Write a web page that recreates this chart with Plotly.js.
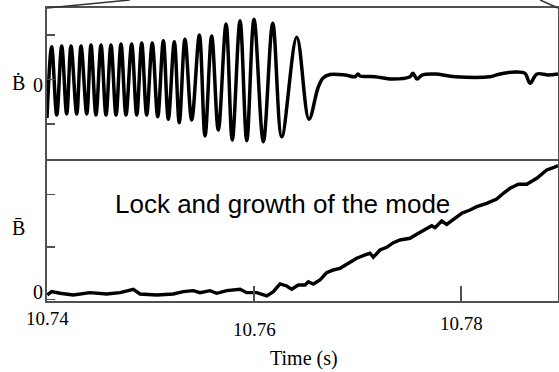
<!DOCTYPE html>
<html><head><meta charset="utf-8">
<script src="https://cdn.plot.ly/plotly-3.0.1.min.js"></script>
<style>
html,body{margin:0;padding:0;background:#fff}
#chart{width:559px;height:372px}
</style>
</head><body><div id="chart"></div>
<script>
// Top panel: dB/dt signal (peaks / troughs)
const bdotTime = [10.74000, 10.74045, 10.74094, 10.74142, 10.74190, 10.74232, 10.74287, 10.74329, 10.74384, 10.74425,
  10.74473, 10.74522, 10.74570, 10.74618, 10.74667, 10.74715, 10.74763, 10.74818, 10.74867, 10.74915,
  10.74963, 10.75017, 10.75070, 10.75124, 10.75172, 10.75230, 10.75278, 10.75333, 10.75398, 10.75472,
  10.75527, 10.75591, 10.75655, 10.75730, 10.75790, 10.75865, 10.75930, 10.76000, 10.76090, 10.76181,
  10.76268, 10.76413, 10.76531, 10.76618, 10.76667, 10.76734, 10.76879, 10.76976, 10.77005, 10.77024,
  10.77169, 10.77333, 10.77507, 10.77536, 10.77575, 10.77623, 10.77749, 10.77942, 10.78280, 10.78377,
  10.78522, 10.78618, 10.78667, 10.78734, 10.78841, 10.78937];
const bdotValue = [-0.865, 0.737, -0.798, 0.753, -0.775, 0.753, -0.775, 0.753, -0.775, 0.775,
  -0.798, 0.775, -0.798, 0.775, -0.798, 0.798, -0.798, 0.798, -0.798, 0.820,
  -0.798, 0.820, -0.836, 0.872, -0.894, 0.849, -0.971, 0.903, -0.910, 1.000,
  -1.270, 0.978, -1.135, 1.247, -1.360, 1.321, -1.375, 1.353, -1.398, 1.263,
  -1.285, 0.948, -0.894, -0.191, 0.034, 0.112, 0.101, 0.063, 0.124, 0.079,
  0.063, 0.011, 0.063, 0.139, 0.011, 0.101, 0.124, 0.063, 0.063, 0.124,
  0.169, 0.139, -0.085, 0.124, 0.101, 0.124];

// Bottom panel: mean B amplitude
const bbarTime = [10.74003, 10.74045, 10.74126, 10.74254, 10.74415, 10.74577, 10.74705, 10.74834, 10.74899, 10.75060,
  10.75220, 10.75317, 10.75414, 10.75478, 10.75575, 10.75640, 10.75736, 10.75865, 10.75930, 10.76026,
  10.76123, 10.76187, 10.76251, 10.76316, 10.76364, 10.76428, 10.76493, 10.76525, 10.76573, 10.76638,
  10.76702, 10.76766, 10.76831, 10.76896, 10.76992, 10.77073, 10.77121, 10.77153, 10.77217, 10.77282,
  10.77346, 10.77411, 10.77507, 10.77572, 10.77652, 10.77717, 10.77749, 10.77814, 10.77862, 10.77942,
  10.78007, 10.78087, 10.78152, 10.78248, 10.78345, 10.78409, 10.78474, 10.78554, 10.78635, 10.78732,
  10.78795, 10.78828, 10.78892, 10.78937];
const bbarValue = [0.086, 0.149, 0.118, 0.086, 0.130, 0.105, 0.130, 0.194, 0.105, 0.086,
  0.105, 0.149, 0.168, 0.130, 0.168, 0.118, 0.168, 0.194, 0.130, 0.130,
  0.067, 0.149, 0.295, 0.257, 0.194, 0.276, 0.276, 0.339, 0.295, 0.371,
  0.510, 0.562, 0.594, 0.676, 0.785, 0.848, 0.880, 0.804, 0.943, 0.994,
  1.082, 1.133, 1.166, 1.242, 1.343, 1.406, 1.368, 1.495, 1.432, 1.547,
  1.642, 1.705, 1.768, 1.832, 1.914, 2.023, 2.118, 2.194, 2.194, 2.309,
  2.404, 2.467, 2.510, 2.549];

const timeTicks = [10.74, 10.76, 10.78];
const timeTickLabels = ['10.74', '10.76', '10.78'];
const bdotTicks = [-1, 0, 1];
const bbarTicks = [0, 1, 2];
const xTitle = 'Time (s)';
const bdotLabel = 'Ḃ';
const bbarLabel = 'B\u0304';
const noteText = 'Lock and growth of the mode';

// ---- styling ----
const SERIF = 'Liberation Serif, Times New Roman, serif';
const SANS = 'Liberation Sans, Arial, sans-serif';
const FRAME = '#505050';
const tickLabelShift = [-17, -28, -22];

const axisCommon = {showgrid: false, zeroline: false, showline: true, linecolor: FRAME, linewidth: 2,
  mirror: true, tickcolor: FRAME, tickwidth: 1.5, showticklabels: false};

const data = [
  {x: bdotTime, y: bdotValue, xaxis: 'x2', yaxis: 'y2', type: 'scatter', mode: 'lines',
   line: {color: '#000', width: 3.5, shape: 'spline', smoothing: 1}, hoverinfo: 'skip'},
  {x: bbarTime, y: bbarValue, xaxis: 'x', yaxis: 'y', type: 'scatter', mode: 'lines',
   line: {color: '#000', width: 3.4}, hoverinfo: 'skip'}
];

const annotations = [];
timeTicks.forEach((t, i) => annotations.push({
  text: timeTickLabels[i], xref: 'x', x: t, yref: 'paper', y: 0, yanchor: 'middle', borderpad: 0,
  yshift: tickLabelShift[i], showarrow: false, font: {family: SERIF, size: 19, color: '#000'}
}));
annotations.push({text: xTitle, xref: 'paper', x: 0.503, yref: 'paper', y: 0, yanchor: 'middle', borderpad: 0,
  yshift: -57, showarrow: false, font: {family: SERIF, size: 20, color: '#000'}});
annotations.push({text: bdotLabel, xref: 'paper', x: -0.071, yref: 'y2', y: 0, yanchor: 'middle', borderpad: 0,
  yshift: -3, showarrow: false, font: {family: SERIF, size: 20, color: '#000'}});
annotations.push({text: '0', xref: 'paper', x: -0.006, xanchor: 'right', yref: 'y2', y: 0, yanchor: 'middle',
  borderpad: 0, yshift: -5, showarrow: false, font: {family: SERIF, size: 20, color: '#000'}});
annotations.push({text: bbarLabel, xref: 'paper', x: -0.071, yref: 'paper', y: 0.25, yanchor: 'middle',
  borderpad: 0, showarrow: false, font: {family: SERIF, size: 20, color: '#000'}});
annotations.push({text: '0', xref: 'paper', x: -0.006, xanchor: 'right', yref: 'y', y: 0, yanchor: 'middle',
  borderpad: 0, yshift: 7, showarrow: false, font: {family: SERIF, size: 20, color: '#000'}});
annotations.push({text: noteText, xref: 'paper', x: 0.46, yref: 'paper', y: 0.332, yanchor: 'middle',
  showarrow: false, font: {family: SANS, size: 26, color: '#000'}});

const layout = {
  width: 559, height: 372,
  margin: {l: 47, r: 1, t: 8, b: 71},
  paper_bgcolor: '#fff', plot_bgcolor: '#fff',
  showlegend: false,
  xaxis: Object.assign({}, axisCommon, {range: [10.74, 10.78937], anchor: 'y', mirror: false,
    tickvals: timeTicks, ticks: 'inside', ticklen: 15}),
  xaxis2: Object.assign({}, axisCommon, {matches: 'x', anchor: 'y2', ticks: ''}),
  yaxis: Object.assign({}, axisCommon, {domain: [0, 0.4846], range: [-0.029, 2.676],
    tickvals: bbarTicks, ticks: 'inside', ticklen: 8}),
  yaxis2: Object.assign({}, axisCommon, {domain: [0.4846, 1], range: [-1.787, 1.607],
    tickvals: bdotTicks, ticks: 'inside', ticklen: 8}),
  annotations: annotations,
  shapes: [
    {type: 'line', xref: 'paper', yref: 'paper', x0: 0, y0: 1, x1: 0.162, y1: 1.0273,
     line: {color: '#333', width: 1.5}},
    {type: 'line', xref: 'paper', yref: 'paper', x0: 0.965, y0: 1.0273, x1: 1, y1: 1,
     line: {color: '#333', width: 1.5}}
  ]
};

Plotly.newPlot('chart', data, layout, {staticPlot: true, displayModeBar: false});
</script>
</body></html>
